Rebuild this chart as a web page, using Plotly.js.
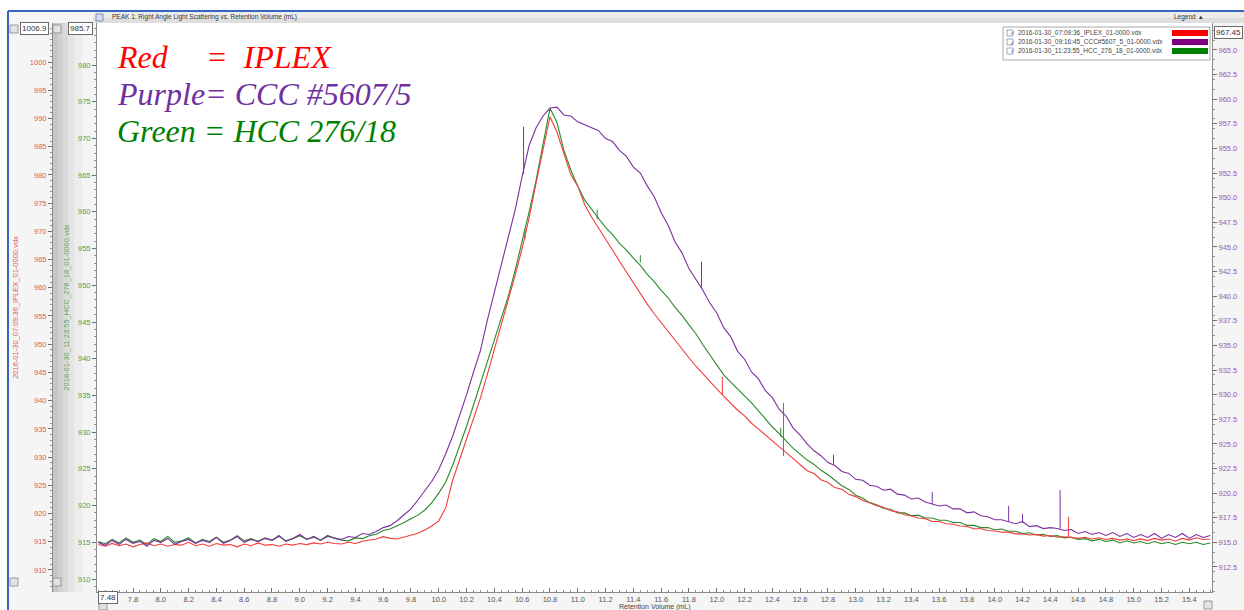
<!DOCTYPE html>
<html><head><meta charset="utf-8">
<script src="https://cdn.plot.ly/plotly-3.0.1.min.js"></script>
<style>html,body{margin:0;padding:0;background:#fff;}#chart{width:1244px;height:610px;}</style>
</head><body><div id="chart"></div>
<script>
// ---- data ----
const retentionVolume = [
7.55,7.6,7.65,7.7,7.75,7.8,7.85,7.9,7.95,8,
8.05,8.1,8.15,8.2,8.25,8.3,8.35,8.4,8.45,8.5,
8.55,8.6,8.65,8.7,8.75,8.8,8.85,8.9,8.95,9,
9.05,9.1,9.15,9.2,9.25,9.3,9.35,9.4,9.45,9.5,
9.55,9.6,9.65,9.7,9.75,9.8,9.85,9.9,9.95,10,
10.05,10.1,10.15,10.2,10.25,10.3,10.35,10.4,10.45,10.5,
10.55,10.6,10.65,10.7,10.75,10.8,10.85,10.9,10.95,11,
11.05,11.1,11.15,11.2,11.25,11.3,11.35,11.4,11.45,11.5,
11.55,11.6,11.65,11.7,11.75,11.8,11.85,11.9,11.95,12,
12.05,12.1,12.15,12.2,12.25,12.3,12.35,12.4,12.45,12.5,
12.55,12.6,12.65,12.7,12.75,12.8,12.85,12.9,12.95,13,
13.05,13.1,13.15,13.2,13.25,13.3,13.35,13.4,13.45,13.5,
13.55,13.6,13.65,13.7,13.75,13.8,13.85,13.9,13.95,14,
14.05,14.1,14.15,14.2,14.25,14.3,14.35,14.4,14.45,14.5,
14.55,14.6,14.65,14.7,14.75,14.8,14.85,14.9,14.95,15,
15.05,15.1,15.15,15.2,15.25,15.3,15.35,15.4,15.45,15.5,
15.55];

// Red = IPLEX (left outer axis)
const iplexSignal = [
914.5,914.2,914.7,914.3,914.6,914.1,914.5,914.8,914.3,914.6,
914.2,914.5,914.4,914.9,914.3,914.6,914.2,914.7,914.4,914.5,
914.1,914.6,914.3,914.8,914.4,914.5,914.2,914.6,914.4,914.7,
914.5,914.8,914.6,914.9,914.7,914.6,914.9,914.7,915.1,915.3,
915.5,915.9,915.6,915.5,915.8,916.2,916.5,917.1,917.8,918.7,
921.0,925.9,929.5,933.0,936.6,940.5,944.7,949.0,953.4,957.8,
962.3,967.0,972.4,978.6,984.4,990.3,987.6,983.7,980.0,978.0,
974.7,972.5,970.6,968.8,966.7,964.7,962.8,960.8,959.1,957.1,
955.4,953.8,952.2,950.6,949.0,947.6,946.1,944.7,943.3,942.1,
940.8,939.6,938.3,937.3,936.0,935.0,933.9,932.9,931.8,930.8,
929.7,928.6,927.6,927.1,926.0,925.5,924.6,924.3,923.4,923.0,
922.3,921.9,921.4,921.1,920.5,920.3,919.8,919.6,919.2,919.1,
918.6,918.6,918.2,918.1,917.8,917.7,917.3,917.3,917.0,916.9,
916.7,916.7,916.4,916.4,916.2,916.3,916.0,916.1,915.8,915.9,
915.8,915.6,915.8,915.5,915.7,915.4,915.6,915.3,915.5,915.2,
915.5,915.2,915.6,915.3,915.5,915.1,915.6,915.3,915.7,915.4,
915.5];
// narrow upward spikes on the red trace
const iplexSpikeX    = [12.04, 12.48, 14.53];
const iplexSpikeBase = [941.0, 930.2, 915.8];
const iplexSpikeTop  = [944.2, 939.6, 919.4];

// Purple = CCC #5607/5 (right axis)
const ccc5607Signal = [
915.0,914.7,915.2,914.8,915.3,914.9,915.1,914.6,915.2,915.0,
915.4,914.8,915.1,915.3,914.9,915.2,915.0,915.5,914.9,915.2,
915.6,915.0,915.3,915.1,915.4,915.2,915.7,915.1,915.4,915.8,
915.3,915.6,915.2,915.7,915.4,915.3,915.6,915.5,915.9,915.8,
916.1,916.5,916.7,917.2,917.8,918.4,919.3,920.3,921.2,922.4,
924.0,925.8,927.8,930.0,932.3,934.5,937.6,940.4,943.2,945.9,
948.8,952.2,955.3,957.1,958.3,959.1,959.2,958.4,958.3,957.7,
957.4,957.1,956.8,956.0,955.7,954.8,954.2,953.1,952.5,951.2,
950.1,948.5,947.2,945.5,944.4,942.8,941.7,940.6,939.3,938.3,
936.8,935.9,934.4,933.6,932.3,931.6,930.4,929.7,928.5,927.8,
926.6,925.9,925.0,924.3,923.8,923.1,922.8,922.2,922.0,921.4,
921.3,920.8,920.7,920.3,920.4,919.9,919.8,919.4,919.5,919.1,
918.9,918.7,918.8,918.4,918.4,918.0,918.1,917.7,917.6,917.3,
917.3,917.1,916.9,917.1,916.6,916.7,916.4,916.5,916.4,916.2,
916.3,915.9,916.1,915.8,916.0,915.7,916.0,915.6,915.9,915.5,
915.8,915.5,915.9,915.4,915.8,915.5,915.9,915.4,915.8,915.5,
915.7];
const cccSpikeX    = [10.61, 11.89, 12.84, 13.55, 14.1, 14.2, 14.47];
const cccSpikeBase = [952.4, 940.8, 922.9, 918.9, 917.1, 917.0, 916.4];
const cccSpikeTop  = [957.2, 943.5, 923.9, 920.1, 918.7, 917.9, 920.3];

// Green = HCC 276/18 (left inner axis)
const hcc27618Signal = [
915.1,914.8,915.4,914.9,915.6,915.0,915.3,914.7,915.5,915.1,
915.8,915.0,915.2,915.6,914.9,915.4,915.1,915.7,915.0,915.3,
915.9,915.2,915.5,915.1,915.6,915.3,915.8,915.2,915.5,915.9,
915.4,915.7,915.3,915.8,915.6,915.3,915.2,915.6,915.5,915.9,
916.1,916.6,916.8,917.2,917.7,918.2,918.7,919.4,920.4,921.7,
923.2,925.5,928.1,930.8,933.7,936.6,939.5,942.5,945.5,948.5,
952.1,955.9,960.0,964.3,969.0,974.1,972.2,968.4,965.7,963.5,
961.6,960.3,959.1,957.9,956.9,955.7,954.8,953.7,952.7,951.5,
950.5,949.3,948.3,947.0,945.9,944.6,943.4,941.9,940.5,939.2,
937.8,936.8,935.9,934.9,934.0,932.9,931.8,930.7,929.8,928.8,
927.8,927.0,926.2,925.6,924.8,924.2,923.5,922.7,922.2,921.4,
921.0,920.4,920.1,919.6,919.5,919.0,919.0,918.6,918.7,918.3,
918.3,918.0,918.0,917.7,917.7,917.3,917.3,917.0,917.0,916.7,
916.8,916.5,916.5,916.2,916.3,916.0,916.1,915.8,915.9,915.6,
915.7,915.4,915.5,915.2,915.4,915.1,915.3,914.9,915.2,914.9,
915.1,914.8,915.1,914.8,915.0,914.7,915.0,914.8,915.0,914.7,
914.9];
const hccSpikeX    = [10.62, 11.14, 11.45, 12.46];
const hccSpikeBase = [956.3, 959.0, 953.1, 929.4];
const hccSpikeTop  = [957.6, 960.3, 954.1, 930.6];

const seriesFiles = [
  "2016-01-30_07:09:36_IPLEX_01-0000.vdx",
  "2016-01-30_09:16:45_CCC#5607_5_01-0000.vdx",
  "2016-01-30_11:23:55_HCC_276_18_01-0000.vdx"
];
const seriesColors = ["#ff0000", "#800080", "#008000"];
const lineColors = ["#f23c3c", "#7d2fa0", "#2a8a2a"];

const xTickVals = [7.8,8.0,8.2,8.4,8.6,8.8,9.0,9.2,9.4,9.6,9.8,10.0,10.2,10.4,10.6,10.8,11.0,11.2,11.4,11.6,11.8,12.0,12.2,12.4,12.6,12.8,13.0,13.2,13.4,13.6,13.8,14.0,14.2,14.4,14.6,14.8,15.0,15.2,15.4];
const redTicks = [910,915,920,925,930,935,940,945,950,955,960,965,970,975,980,985,990,995,1000];
const greenTicks = [910,915,920,925,930,935,940,945,950,955,960,965,970,975,980];
const purpleTicks = [912.5,915,917.5,920,922.5,925,927.5,930,932.5,935,937.5,940,942.5,945,947.5,950,952.5,955,957.5,960,962.5,965];

// ---- layout helpers (pixel -> paper) ----
const W = 1244, H = 610;
const fx = p => p / W;
const fy = p => 1 - p / H;
const tickFont = c => ({family: "Liberation Sans, Arial, sans-serif", size: 7.5, color: c});

function spikeTrace(xs, bases, tops, axis, color, name) {
  const x = [], y = [];
  xs.forEach((v, i) => { x.push(v, v, null); y.push(bases[i], tops[i], null); });
  return {x: x, y: y, yaxis: axis, type: "scatter", mode: "lines", connectgaps: false,
    line: {color: color, width: 1}, name: name, showlegend: false};
}

const traces = [
  {x: retentionVolume, y: hcc27618Signal, yaxis: "y", type: "scatter", mode: "lines",
   line: {color: lineColors[2], width: 1.1}, name: seriesFiles[2], showlegend: false},
  spikeTrace(hccSpikeX, hccSpikeBase, hccSpikeTop, "y", lineColors[2], seriesFiles[2]),
  {x: retentionVolume, y: iplexSignal, yaxis: "y2", type: "scatter", mode: "lines",
   line: {color: lineColors[0], width: 1.1}, name: seriesFiles[0], showlegend: false},
  spikeTrace(iplexSpikeX, iplexSpikeBase, iplexSpikeTop, "y2", lineColors[0], seriesFiles[0]),
  {x: retentionVolume, y: ccc5607Signal, yaxis: "y3", type: "scatter", mode: "lines",
   line: {color: lineColors[1], width: 1.1}, name: seriesFiles[1], showlegend: false},
  spikeTrace(cccSpikeX, cccSpikeBase, cccSpikeTop, "y3", lineColors[1], seriesFiles[1])
];

const shapes = [];
function rect(x0, y0, x1, y1, fill, line, layer) {
  shapes.push({type: "rect", xref: "paper", yref: "paper", x0: fx(x0), x1: fx(x1), y0: fy(y1), y1: fy(y0),
    fillcolor: fill, line: line || {width: 0}, layer: layer || "below"});
}
// window background pieces
rect(0, 0, 1244, 11, "#ffffff");
rect(0, 0, 8, 610, "#ffffff");
rect(93, 12, 1244, 18, "#ececec");
rect(93, 18, 1244, 23, "#dedede");
// gradient strip of the inner (green) axis panel
rect(53, 23, 58, 592, "#c6c6c6");
rect(58, 23, 63, 592, "#d0d0d0");
rect(63, 23, 68, 592, "#dadada");
rect(68, 23, 74, 592, "#e4e4e4");
rect(74, 23, 82, 592, "#ececec");
rect(82, 23, 97, 592, "#f4f4f4");
// blue frame
shapes.push({type: "line", xref: "paper", yref: "paper", x0: fx(8), x1: fx(8), y0: 0, y1: fy(11), line: {color: "#3467c0", width: 2}, layer: "above"});
shapes.push({type: "line", xref: "paper", yref: "paper", x0: fx(8), x1: 1, y0: fy(11), y1: fy(11), line: {color: "#3467c0", width: 2}, layer: "above"});
// small square buttons
[[14,29],[57,29],[14,582],[57,582],[103,606],[1208,605]].forEach(([x,y]) =>
  rect(x-4, y-4, x+4, y+4, "#e2e2e2", {color: "#9a9a9a", width: 1}, "above"));
// title bar icon
rect(96, 14, 103, 21, "#d8dcef", {color: "#8a8fb0", width: 1}, "above");
// legend box
rect(1003, 27, 1210, 60, "#ffffff", {color: "#a8a8a8", width: 1}, "above");
[0,1,2].forEach(i => {
  const y = 33 + i * 9;
  rect(1172, y - 3, 1208, y + 3, seriesColors[i], {width: 0}, "above");
  rect(1007, y - 3, 1013, y + 3, "#ffffff", {color: "#9aa6c0", width: 1}, "above");
});

const annotations = [];
function txt(text, x, y, font, opts) {
  annotations.push(Object.assign({text: text, x: fx(x), y: fy(y), xref: "paper", yref: "paper",
    showarrow: false, xanchor: "left", yanchor: "middle", font: font}, opts || {}));
}
const big = c => ({family: "Liberation Serif, Times New Roman, serif", size: 32, color: c, style: "italic"});
txt("Red", 115, 57, big("#ff0000"));
txt("=  IPLEX", 204, 57, big("#ff0000"));
txt("Purple= CCC #5607/5", 115, 94, big("#7030a0"));
txt("Green = HCC 276/18", 115, 131, big("#008000"));

const small = (s, c) => ({family: "Liberation Sans, Arial, sans-serif", size: s, color: c});
txt("PEAK 1: Right Angle Light Scattering vs. Retention Volume (mL)", 110, 17.5, small(6.5, "#333333"));
txt("Legend  \u25B4", 1172, 17.5, small(6.5, "#333333"));
[0,1,2].forEach(i => {
  txt(seriesFiles[i], 1016, 33 + i * 9, small(6.5, "#444444"));
  txt("\u2713", 1007.5, 33 + i * 9, {family: "DejaVu Sans", size: 6, color: "#3a5fa8"});
});
const boxOpts = {bgcolor: "#ffffff", bordercolor: "#6a6a6a", borderwidth: 1, borderpad: 1, xanchor: "center"};
txt("1006.9", 34, 29, small(8, "#333333"), boxOpts);
txt("985.7", 80, 29, small(8, "#333333"), boxOpts);
txt("967.45", 1228, 32, small(8, "#333333"), boxOpts);
txt("7.48", 108, 597, small(8, "#333333"), boxOpts);
txt("Retention Volume (mL)", 655, 606.5, small(7, "#444444"), {xanchor: "center"});

const commonY = {
  showgrid: false, zeroline: false, showline: true, linecolor: "#8a8a8a", linewidth: 1,
  ticks: "outside", ticklen: 4, tickwidth: 1, tickcolor: "#707070", tickmode: "array",
  minor: {ticks: "outside", dtick: 1, ticklen: 2, tickcolor: "#909090", showgrid: false}
};

const layout = {
  width: W, height: H,
  margin: {l: 0, r: 0, t: 0, b: 0, pad: 0},
  paper_bgcolor: "#f5f5f5", plot_bgcolor: "#ffffff",
  showlegend: false,
  xaxis: {
    domain: [fx(97), fx(1212)], range: [7.541, 15.563], showgrid: false, zeroline: false,
    showline: true, linecolor: "#8a8a8a", mirror: false,
    tickmode: "array", tickvals: xTickVals, tickformat: ".1f",
    ticks: "inside", ticklen: 4, tickcolor: "#707070", tickfont: tickFont("#555555"),
    minor: {ticks: "inside", dtick: 0.05, ticklen: 2, tickcolor: "#909090", showgrid: false}
  },
  yaxis: Object.assign({}, commonY, {
    domain: [fy(592), fy(23)], range: [908.23, 985.72], anchor: "x", side: "left",
    tickvals: greenTicks, tickfont: tickFont("#4f9f4f"),
    title: {text: seriesFiles[2], font: small(7.5, "#5aa55a"), standoff: 7}
  }),
  yaxis2: Object.assign({}, commonY, {
    overlaying: "y", anchor: "free", position: fx(52), side: "left", range: [906.10, 1006.91],
    tickvals: redTicks, tickfont: tickFont("#e05a5a"),
    title: {text: seriesFiles[0], font: small(7.5, "#e06060"), standoff: 9}
  }),
  yaxis3: Object.assign({}, commonY, {
    overlaying: "y", anchor: "x", side: "right", range: [909.96, 967.74],
    tickvals: purpleTicks, tickformat: ".1f", tickfont: tickFont("#9d55aa")
  }),
  shapes: shapes,
  annotations: annotations
};

Plotly.newPlot("chart", traces, layout, {staticPlot: true, displayModeBar: false});
</script>
</body></html>
